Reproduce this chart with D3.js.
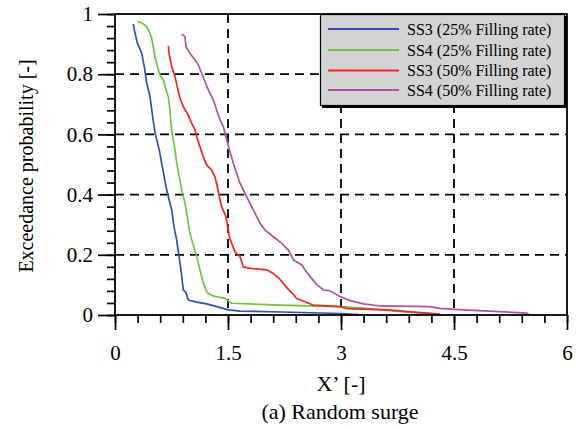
<!DOCTYPE html>
<html>
<head>
<meta charset="utf-8">
<script src="https://cdn.jsdelivr.net/npm/d3@7"></script>
<style>
body{margin:0;background:#fff;}
svg{display:block;}
text{font-family:"Liberation Serif","Times New Roman",serif;fill:#000;}
</style>
</head>
<body>
<svg id="chart" width="580" height="430"></svg>
<script>
const seriesNames = ["SS3 (25% Filling rate)","SS4 (25% Filling rate)","SS3 (50% Filling rate)","SS4 (50% Filling rate)"];
const seriesColors = ["#3050b8","#6cc63c","#f82424","#b050a8"];
const xTicks = [0,1.5,3,4.5,6];
const xTickLabels = ["0","1.5","3","4.5","6"];
const yTicks = [0,0.2,0.4,0.6,0.8,1];
const yTickLabels = ["0","0.2","0.4","0.6","0.8","1"];

const ss3_25 = [[0.243,0.967],[0.256,0.947],[0.296,0.904],[0.354,0.870],[0.389,0.825],[0.421,0.771],[0.465,0.725],[0.500,0.659],[0.531,0.605],[0.588,0.548],[0.628,0.493],[0.677,0.426],[0.708,0.393],[0.753,0.349],[0.783,0.293],[0.819,0.249],[0.850,0.194],[0.876,0.150],[0.907,0.083],[0.943,0.074],[0.973,0.050],[1.085,0.043],[1.217,0.037],[1.350,0.028],[1.504,0.017],[1.66,0.013],[2.2,0.010],[3.0,0.005],[3.24,0.001]];
const ss4_25 = [[0.301,0.974],[0.354,0.971],[0.421,0.958],[0.465,0.936],[0.487,0.919],[0.508,0.891],[0.531,0.858],[0.562,0.825],[0.597,0.797],[0.641,0.781],[0.677,0.748],[0.708,0.725],[0.730,0.681],[0.743,0.637],[0.766,0.592],[0.797,0.548],[0.819,0.504],[0.854,0.459],[0.885,0.415],[0.929,0.371],[0.960,0.327],[0.986,0.282],[1.031,0.238],[1.085,0.194],[1.128,0.150],[1.172,0.105],[1.225,0.074],[1.305,0.063],[1.460,0.055],[1.549,0.039],[2.19,0.033],[2.99,0.028],[3.29,0.023],[3.96,0.008],[4.31,0.003]];
const ss3_50 = [[0.708,0.894],[0.717,0.869],[0.753,0.825],[0.797,0.792],[0.827,0.758],[0.863,0.720],[0.907,0.692],[0.960,0.670],[1.018,0.637],[1.062,0.615],[1.085,0.592],[1.128,0.559],[1.172,0.526],[1.217,0.498],[1.283,0.482],[1.327,0.459],[1.358,0.426],[1.385,0.393],[1.416,0.360],[1.473,0.327],[1.496,0.293],[1.518,0.260],[1.549,0.238],[1.593,0.210],[1.659,0.194],[1.703,0.160],[1.792,0.155],[2.014,0.150],[2.102,0.138],[2.19,0.118],[2.28,0.091],[2.37,0.068],[2.41,0.055],[2.52,0.044],[2.63,0.033],[2.99,0.028],[3.08,0.021],[3.61,0.017],[4.05,0.008],[4.31,0.003]];
const ss4_50 = [[0.885,0.934],[0.929,0.925],[0.943,0.891],[0.996,0.869],[1.062,0.847],[1.106,0.831],[1.150,0.803],[1.195,0.775],[1.239,0.748],[1.305,0.714],[1.350,0.681],[1.394,0.648],[1.438,0.626],[1.473,0.592],[1.518,0.548],[1.571,0.504],[1.615,0.471],[1.659,0.438],[1.726,0.404],[1.792,0.371],[1.858,0.338],[1.925,0.305],[1.991,0.282],[2.102,0.260],[2.213,0.238],[2.30,0.216],[2.37,0.183],[2.48,0.166],[2.54,0.144],[2.68,0.100],[2.77,0.083],[2.85,0.081],[2.99,0.061],[3.12,0.048],[3.30,0.037],[3.52,0.030],[4.18,0.028],[4.31,0.022],[4.62,0.017],[5.29,0.009],[5.47,0.006],[5.49,0.002]];
const seriesData = [ss3_25, ss4_25, ss3_50, ss4_50];

const FONT = "'Liberation Serif','Times New Roman',serif";
const svg = d3.select("#chart");
const L = 115, R = 567, T = 14, B = 315;
const x = d3.scaleLinear().domain([0,6]).range([L,R]);
const y = d3.scaleLinear().domain([0,1]).range([B,T]);

// grid
const g = svg.append("g");
g.selectAll(".gx").data(xTicks.filter(v=>v>0&&v<6)).enter().append("line")
  .attr("x1",d=>x(d)).attr("x2",d=>x(d)).attr("y1",T).attr("y2",B)
  .attr("stroke","#000").attr("stroke-width",1.8).attr("stroke-dasharray","9,6");
g.selectAll(".gy").data(yTicks.filter(v=>v>0&&v<1)).enter().append("line")
  .attr("x1",L).attr("x2",R).attr("y1",d=>y(d)).attr("y2",d=>y(d))
  .attr("stroke","#000").attr("stroke-width",1.8).attr("stroke-dasharray","9,6");

// lines
const line = d3.line().x(d=>x(d[0])).y(d=>y(d[1]));
seriesData.forEach((s,i)=>{
  svg.append("path").datum(s).attr("d",line).attr("fill","none")
    .attr("stroke",seriesColors[i]).attr("stroke-width",1.7).attr("stroke-linejoin","round");
});

// axes
const xAxis = d3.axisBottom(x).tickValues(xTicks).tickFormat((d,i)=>xTickLabels[i]).tickSize(15).tickPadding(15);
svg.append("g").attr("transform",`translate(0,${B})`).call(xAxis);
const xMinor = d3.axisBottom(x).tickValues(d3.range(0,6.001,0.3).map(v=>+v.toFixed(2))).tickFormat("").tickSize(8);
svg.append("g").attr("transform",`translate(0,${B})`).call(xMinor);
const yAxis = d3.axisLeft(y).tickValues(yTicks).tickFormat((d,i)=>yTickLabels[i]).tickSize(17).tickPadding(5);
svg.append("g").attr("transform",`translate(${L},0)`).call(yAxis);
const yMinor = d3.axisLeft(y).tickValues(d3.range(0,1.0001,0.04).map(v=>+v.toFixed(2))).tickFormat("").tickSize(8);
svg.append("g").attr("transform",`translate(${L},0)`).call(yMinor);
svg.selectAll(".domain").remove();
svg.selectAll(".tick line").attr("stroke","#000").attr("stroke-width",1.7);
svg.selectAll(".tick").select(function(){return this.parentNode;}).attr("font-family",FONT).attr("font-size",21);
svg.selectAll(".tick text").attr("font-family",FONT).attr("font-size",21).style("font-family",FONT).style("font-size","21px").attr("fill","#000");

// frame
svg.append("rect").attr("x",L).attr("y",T).attr("width",R-L).attr("height",B-T)
  .attr("fill","none").attr("stroke","#000").attr("stroke-width",1.8);

// legend
const lg = svg.append("g");
lg.append("rect").attr("x",322).attr("y",16).attr("width",245).attr("height",92).attr("fill","#000");
lg.append("rect").attr("x",320.5).attr("y",14.5).attr("width",244).attr("height",91)
  .attr("fill","#d3d3d3").attr("stroke","#000").attr("stroke-width",1.2);
const rowY = [29,50,70.5,90];
seriesNames.forEach((n,i)=>{
  lg.append("line").attr("x1",328).attr("x2",399).attr("y1",rowY[i]).attr("y2",rowY[i])
    .attr("stroke",seriesColors[i]).attr("stroke-width",1.8);
  lg.append("text").attr("x",407).attr("y",rowY[i]+5.5).style("font-size","16px").text(n);
});

// titles
svg.append("text").attr("x",341).attr("y",391).attr("text-anchor","middle").style("font-size","22px").text("X\u2019 [-]");
svg.append("text").attr("x",340).attr("y",419).attr("text-anchor","middle").style("font-size","22px").text("(a) Random surge");
svg.append("text").attr("transform","translate(33,166) rotate(-90)").attr("text-anchor","middle").style("font-size","20px").text("Exceedance probability [-]");
</script>
</body>
</html>
